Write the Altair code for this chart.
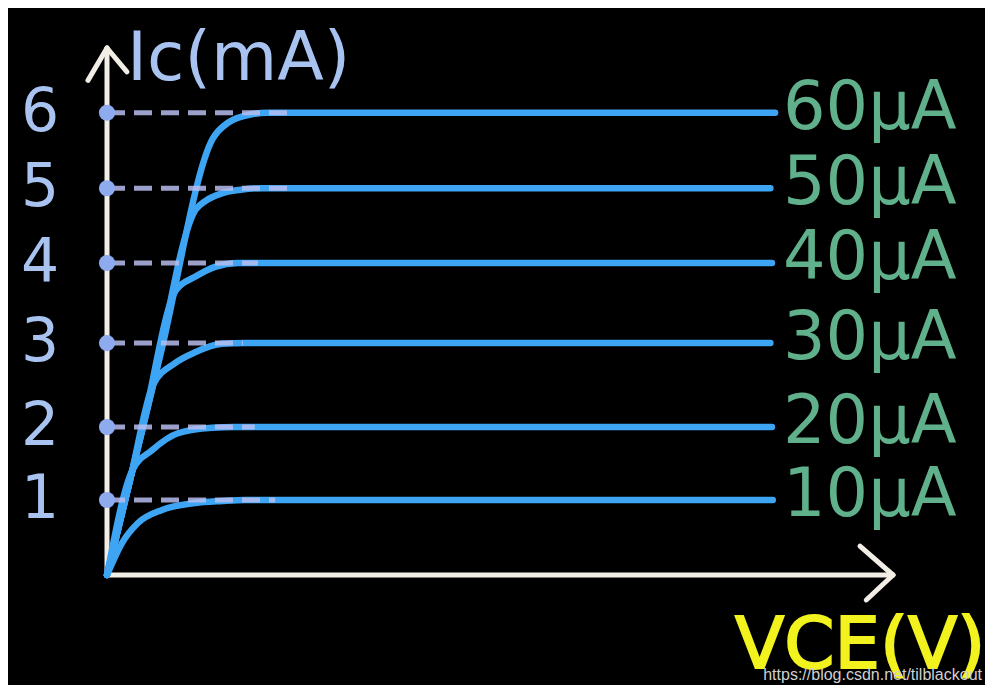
import altair as alt
import pandas as pd

# ---- data ----
series = ["10 μA", "20 μA", "30 μA", "40 μA", "50 μA", "60 μA"]
label_text = ["10μA", "20μA", "30μA", "40μA", "50μA", "60μA"]
levels = [0.973, 1.92, 3.01, 4.05, 5.02, 6.0]          # drawn Ic level (mA) of each curve
tick_labels = ["1", "2", "3", "4", "5", "6"]
dash_end = [2.14, 1.88, 1.73, 1.92, 2.40, 2.39]         # where each dashed guide ends (VCE)

c10_x = [0, 0.191, 0.394, 0.70, 1.12, 1.463, 1.756, 8.47]
c10_y = [0, 0.415, 0.675, 0.844, 0.934, 0.96, 0.973, 0.973]
c20_x = [0, 0.323, 0.573, 0.903, 1.336, 1.628, 8.46]
c20_y = [0, 1.36, 1.62, 1.84, 1.91, 1.92, 1.92]
c30_x = [0, 0.294, 0.587, 0.865, 1.12, 1.463, 1.756, 8.44]
c30_y = [0, 1.235, 2.47, 2.75, 2.89, 3.0, 3.01, 3.01]
c40_x = [0, 0.44, 0.880, 1.12, 1.374, 1.667, 8.46]
c40_y = [0, 1.85, 3.70, 3.87, 4.0, 4.05, 4.05]
c50_x = [0, 0.564, 1.127, 1.26, 1.45, 1.70, 1.972, 8.44]
c50_y = [0, 2.37, 4.74, 4.86, 4.95, 5.0, 5.02, 5.02]
c60_x = [0, 0.6745, 1.349, 1.539, 1.845, 2.048, 8.5]
c60_y = [0, 2.836, 5.67, 5.87, 5.98, 6.0, 6.0]

# axis lines with arrow heads (VCE, Ic)
axis_seg = ["y", "y", "ya", "ya", "yb", "yb", "x", "x", "xa", "xa", "xb", "xb"]
axis_x = [0, 0, -0.242, 0, 0.254, 0, 0, 10, 9.58, 10, 9.66, 10]
axis_y = [0, 6.84, 6.42, 6.84, 6.53, 6.84, 0, 0, 0.376, 0, -0.324, 0]

# ---- tables ----
curve_rows = []
for name, xs_, ys_ in [("10 μA", c10_x, c10_y), ("20 μA", c20_x, c20_y), ("30 μA", c30_x, c30_y),
                       ("40 μA", c40_x, c40_y), ("50 μA", c50_x, c50_y), ("60 μA", c60_x, c60_y)]:
    for i, (a, b) in enumerate(zip(xs_, ys_)):
        curve_rows.append({"series": name, "i": i, "vce": a, "ic": b})
curve_df = pd.DataFrame(curve_rows)

level_df = pd.DataFrame({
    "series": series, "label": label_text, "level": levels, "tick": tick_labels,
    "x0": [0] * len(levels), "xend": dash_end, "xlab": [8.6] * len(levels),
})
axes_df = pd.DataFrame({"seg": axis_seg, "ax": axis_x, "ay": axis_y, "i": list(range(len(axis_x)))})

xs = alt.Scale(domain=[0, 10], nice=False, zero=False)
ys = alt.Scale(domain=[0, 6.84], nice=False, zero=False)
FONT = "DejaVu Sans"

axes = alt.Chart(axes_df).mark_line(color="#f2eee6", strokeWidth=5, strokeCap="round").encode(
    x=alt.X("ax:Q", scale=xs, axis=None), y=alt.Y("ay:Q", scale=ys, axis=None),
    detail="seg:N", order="i:Q")

curves = alt.Chart(curve_df).mark_line(interpolate="monotone", color="#3ea5f4", strokeWidth=6.5,
                                        strokeCap="round", strokeJoin="round").encode(
    x=alt.X("vce:Q", scale=xs, axis=None), y=alt.Y("ic:Q", scale=ys, axis=None),
    detail="series:N", order="i:Q")

dashes = alt.Chart(level_df).mark_rule(color="#b7bdf0", strokeWidth=5, strokeDash=[18, 9], opacity=0.85).encode(
    x=alt.X("x0:Q", scale=xs, axis=None), x2="xend:Q", y=alt.Y("level:Q", scale=ys, axis=None))

dots = alt.Chart(level_df).mark_circle(size=260, color="#8fabef", opacity=1).encode(
    x=alt.X("x0:Q", scale=xs, axis=None), y=alt.Y("level:Q", scale=ys, axis=None))

ticks = alt.Chart(level_df).mark_text(font=FONT, fontSize=60, color="#a9c3f1", align="center",
                                      baseline="middle").encode(
    x=alt.value(-67), y=alt.Y("level:Q", scale=ys, axis=None), text="tick:N")

labels = alt.Chart(level_df).mark_text(font=FONT, fontSize=67, color="#5fb08b", align="left",
                                       baseline="middle", dy=-4).encode(
    x=alt.X("xlab:Q", scale=xs, axis=None), y=alt.Y("level:Q", scale=ys, axis=None), text="label:N")

ytitle = alt.Chart(pd.DataFrame({"t": ["Ic(mA)"]})).mark_text(
    font=FONT, fontSize=68, color="#a9c3f1", align="left", baseline="alphabetic").encode(
    x=alt.value(20), y=alt.value(32), text="t:N")

xtitle = alt.Chart(pd.DataFrame({"t": ["VCE(V)"]})).mark_text(
    font=FONT, fontSize=72, color="#f2f21e", stroke="#f2f21e", strokeWidth=2,
    align="left", baseline="alphabetic").encode(
    x=alt.value(628), y=alt.value(620), text="t:N")

mark = alt.Chart(pd.DataFrame({"t": ["https://blog.csdn.net/tilblackout"]})).mark_text(
    font="Liberation Sans", fontSize=16, color="#d0d0d0", align="right", baseline="alphabetic").encode(
    x=alt.value(875), y=alt.value(632), text="t:N")

chart = alt.layer(axes, curves, dashes, dots, ticks, labels, ytitle, xtitle, mark).properties(
    width=786, height=527, background="black",
    padding={"left": 99, "top": 40, "right": 92, "bottom": 110},
    autosize=alt.AutoSizeParams(type="none"),
).configure_view(stroke=None)

chart.save("out.html", embed_options={"renderer": "svg", "actions": False})
